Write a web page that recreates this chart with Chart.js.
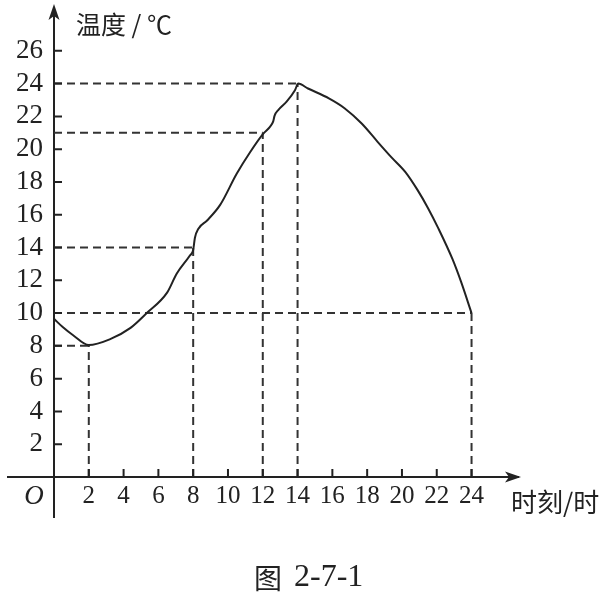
<!DOCTYPE html>
<html>
<head>
<meta charset="utf-8">
<script src="https://cdn.jsdelivr.net/npm/chart.js@4.4.1/dist/chart.umd.min.js"></script>
<style>
  body { margin: 0; background: #fff; }
  canvas { display: block; }
</style>
</head>
<body>
<canvas id="tempChart" width="607" height="596"></canvas>
<script>
// Kurva suhu (jam, derajat)
const hours = [0, 0.5, 1.1, 2, 3.2, 4.4, 5.33, 6.5, 7.05, 7.8, 8.0, 8.1, 8.3, 8.8, 9.55, 10.5, 11.26, 12.03, 12.4, 12.6, 12.68, 12.9, 13.37, 13.85, 14.04, 14.6, 15.8, 16.7, 17.7, 18.6, 19.4, 20.2, 20.9, 21.5, 22.1, 22.9, 23.4, 24];
const temps = [9.65, 9.15, 8.65, 8.05, 8.4, 9.1, 10, 11.25, 12.4, 13.5, 13.85, 14.6, 15.15, 15.65, 16.6, 18.5, 19.8, 20.95, 21.35, 21.7, 22.05, 22.4, 22.9, 23.6, 24, 23.7, 23.1, 22.5, 21.55, 20.45, 19.5, 18.6, 17.5, 16.4, 15.15, 13.3, 11.9, 10];

// Titik yang ditandai garis putus-putus
const markHours = [2, 8, 12, 14, 24];
const markTemps = [8, 14, 21, 24, 10];

// Label sumbu
const xTicks = [2, 4, 6, 8, 10, 12, 14, 16, 18, 20, 22, 24];
const yTicks = [2, 4, 6, 8, 10, 12, 14, 16, 18, 20, 22, 24, 26];

const ink = '#222';

const curve = {
    data: hours.map((h, i) => ({ x: h, y: temps[i] })),
    borderColor: ink,
    borderWidth: 2,
    pointRadius: 0,
    cubicInterpolationMode: 'monotone',
    clip: false
};

const dashed = [];
markHours.forEach((h, i) => {
    const t = markTemps[i];
    dashed.push([{ x: 0, y: t }, { x: h, y: t }]);
    dashed.push([{ x: h, y: 0 }, { x: h, y: t }]);
});
const dashSets = dashed.map(pts => ({
    data: pts,
    borderColor: '#333',
    borderWidth: 2,
    borderDash: [8, 5],
    pointRadius: 0,
    tension: 0
}));

// Sumbu panah, tanda tick ke dalam, dan teks
const axesExtra = {
    id: 'axesExtra',
    afterDraw(chart) {
        const { ctx, chartArea } = chart;
        const xs = chart.scales.x, ys = chart.scales.y;
        const ox = xs.getPixelForValue(0), oy = ys.getPixelForValue(0);
        ctx.save();
        ctx.strokeStyle = ink;
        ctx.fillStyle = ink;
        ctx.lineWidth = 2;
        ctx.beginPath();
        ctx.moveTo(7, oy); ctx.lineTo(chartArea.left, oy);
        ctx.moveTo(chartArea.right, oy); ctx.lineTo(508, oy);
        ctx.moveTo(ox, chartArea.bottom); ctx.lineTo(ox, 518);
        ctx.moveTo(ox, chartArea.top); ctx.lineTo(ox, 16);
        yTicks.forEach(v => {
            const p = ys.getPixelForValue(v);
            ctx.moveTo(ox, p); ctx.lineTo(ox + 8, p);
        });
        xTicks.forEach(v => {
            const p = xs.getPixelForValue(v);
            ctx.moveTo(p, oy); ctx.lineTo(p, oy - 8);
        });
        ctx.stroke();

        // panah
        ctx.beginPath();
        ctx.moveTo(ox, 4); ctx.lineTo(ox + 5.5, 20); ctx.lineTo(ox, 16); ctx.lineTo(ox - 5.5, 20);
        ctx.closePath(); ctx.fill();
        ctx.beginPath();
        ctx.moveTo(521, oy); ctx.lineTo(505, oy - 5.5); ctx.lineTo(509, oy); ctx.lineTo(505, oy + 5.5);
        ctx.closePath(); ctx.fill();

        ctx.textBaseline = 'middle';
        ctx.textAlign = 'left';
        ctx.font = '25px "Noto Sans CJK SC"';
        ctx.fillText('温度 / ℃', 76, 24);
        ctx.font = '26px "Noto Sans CJK SC"';
        ctx.fillText('时刻/时', 511, 502);
        ctx.font = 'italic 27px "Liberation Serif"';
        ctx.textAlign = 'center';
        ctx.fillText('O', 34, 497);
        ctx.textAlign = 'left';
        ctx.font = '28px "Noto Sans CJK SC"';
        ctx.fillText('图', 254, 578);
        ctx.font = '32px "Liberation Serif"';
        ctx.fillText('2-7-1', 294, 578);
        ctx.restore();
    }
};

new Chart(document.getElementById('tempChart'), {
    type: 'line',
    data: { datasets: [curve, ...dashSets] },
    options: {
        responsive: false,
        animation: false,
        layout: { padding: { left: 0, top: 30, right: 89, bottom: 0 } },
        plugins: {
            legend: { display: false },
            tooltip: { enabled: false }
        },
        scales: {
            x: {
                type: 'linear',
                min: 0,
                max: 26.67,
                afterBuildTicks: s => { s.ticks = xTicks.map(v => ({ value: v })); },
                afterFit: s => { s.height = 119; },
                grid: { display: true, drawOnChartArea: false, drawTicks: false },
                border: { display: true, color: ink, width: 2 },
                ticks: { font: { family: '"Liberation Serif"', size: 25 }, color: ink, padding: 4, maxRotation: 0, autoSkip: false }
            },
            y: {
                type: 'linear',
                min: 0,
                max: 27.27,
                afterBuildTicks: s => { s.ticks = yTicks.map(v => ({ value: v })); },
                afterFit: s => { s.width = 54; },
                grid: { display: true, drawOnChartArea: false, drawTicks: false },
                border: { display: true, color: ink, width: 2 },
                ticks: { font: { family: '"Liberation Serif"', size: 27 }, color: ink, padding: 11, autoSkip: false }
            }
        }
    },
    plugins: [axesExtra]
});
</script>
</body>
</html>
